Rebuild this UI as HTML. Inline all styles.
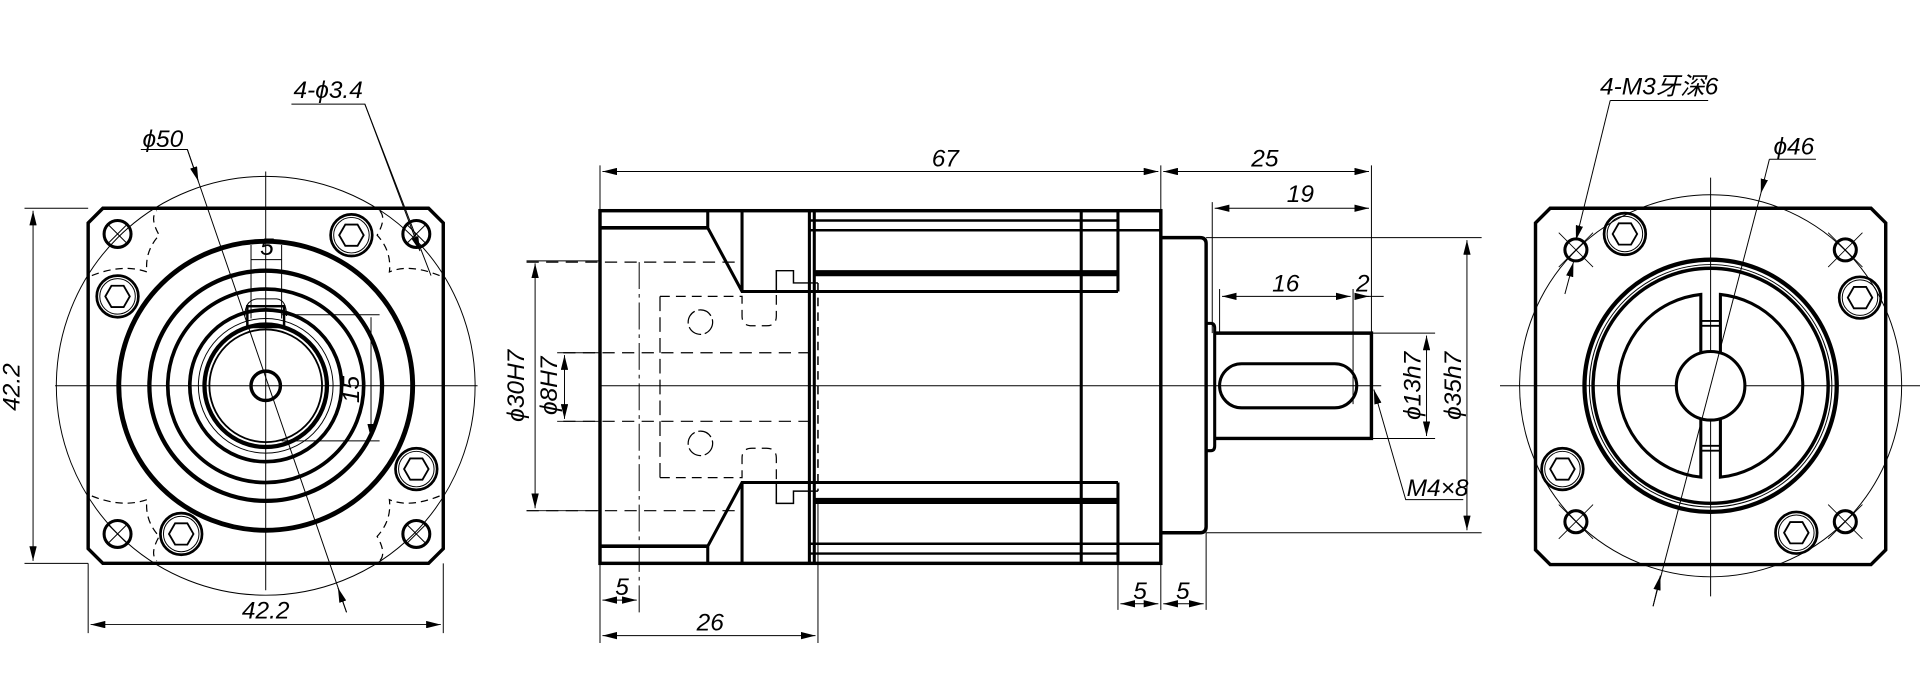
<!DOCTYPE html>
<html><head><meta charset="utf-8"><style>
html,body{margin:0;padding:0;background:#fff;}
svg{display:block;}
text{font-family:"Liberation Sans","Noto Sans CJK SC",sans-serif;font-size:20px;fill:#000;}
</style></head><body>
<svg width="1920" height="692" viewBox="0 0 1568 565" xmlns="http://www.w3.org/2000/svg">
<defs>
<marker id="a" viewBox="0 0 12 6" refX="12" refY="3" markerWidth="12" markerHeight="6" orient="auto-start-reverse" markerUnits="userSpaceOnUse"><path d="M0,0 L12,3 L0,6 z" fill="#000"/></marker>
<g id="hb" fill="none" stroke="#000"><circle r="17" stroke-width="2.2"/><circle r="14.5" stroke-width="0.8"/><polygon points="10,0 5,8.7 -5,8.7 -10,0 -5,-8.7 5,-8.7" stroke-width="1.5"/></g>
<g id="ch" fill="none" stroke="#000"><circle r="11" stroke-width="2.5"/><path d="M-7,-7 L7,7 M-7,7 L7,-7" stroke-width="0.8"/></g>
<g id="ch2" fill="none" stroke="#000"><circle r="9" stroke-width="2.5"/><path d="M-14,-14 L14,14 M-14,14 L14,-14" stroke-width="0.7"/></g>
</defs>
<g fill="none" stroke="#000">
<!-- LEFT VIEW -->
<path d="M84,170 L350,170 L362,182 L362,448 L350,460 L84,460 L72,448 L72,182 Z" stroke-width="2.8"/>
<circle cx="217" cy="315" r="171" stroke-width="0.8"/>
<path d="M45,315 H390 M217,140 V482" stroke-width="0.8"/>
<ellipse cx="217" cy="315" rx="120" ry="118" stroke-width="4"/>
<ellipse cx="217" cy="315" rx="95" ry="94" stroke-width="3.5"/>
<ellipse cx="217" cy="315" rx="80" ry="79" stroke-width="3"/>
<circle cx="217" cy="315" r="62" stroke-width="3"/>
<circle cx="217" cy="315" r="55" stroke-width="0.8"/>
<circle cx="217" cy="315" r="50" stroke-width="3.5"/>
<circle cx="217" cy="315" r="46" stroke-width="1.5"/>
<circle cx="217" cy="315" r="12" stroke-width="2.8"/>
<rect x="202" y="250" width="30" height="17" stroke-width="2"/>
<path d="M217,250 V267 M200,258 Q200,245 210,244 H226 Q234,245 234,258" stroke-width="0.8"/>
<path d="M75,225 Q100,215 120,222 Q118,205 130,192 Q122,178 128,172" stroke-width="1" stroke-dasharray="6,4"/>
<path d="M359,225 Q334,215 318,222 Q320,205 308,192 Q316,178 310,172" stroke-width="1" stroke-dasharray="6,4"/>
<path d="M75,405 Q100,415 120,408 Q118,425 130,438 Q122,452 128,458" stroke-width="1" stroke-dasharray="6,4"/>
<path d="M359,405 Q334,415 318,408 Q320,425 308,438 Q316,452 310,458" stroke-width="1" stroke-dasharray="6,4"/>
<use href="#ch" x="96" y="191"/><use href="#ch" x="340" y="191"/><use href="#ch" x="96" y="436"/><use href="#ch" x="340" y="436"/>
<use href="#hb" x="287" y="192"/><use href="#hb" x="96" y="242"/><use href="#hb" x="340" y="383"/><use href="#hb" x="148" y="436"/>
<path d="M20,170 H72 M20,460 H72" stroke-width="0.8"/>
<path d="M27,172 V458" stroke-width="0.8" marker-start="url(#a)" marker-end="url(#a)"/>
<path d="M72,460 V517 M362,460 V517" stroke-width="0.8"/>
<path d="M74,510 H360" stroke-width="0.8" marker-start="url(#a)" marker-end="url(#a)"/>
<path d="M115,122 H153 L283,500" stroke-width="0.8"/>
<path d="M153,122 L162,148" stroke-width="0.8" marker-end="url(#a)"/>
<path d="M283,500 L276,480" stroke-width="0.8" marker-end="url(#a)"/>
<path d="M238,85 H298 L352,225" stroke-width="0.8"/>
<path d="M298,85 L343,205" stroke-width="0.8" marker-end="url(#a)"/>
<path d="M205,200 V260 M230,200 V260" stroke-width="0.8"/>
<path d="M205,212 H230" stroke-width="0.8"/>
<path d="M230,257 H310 M230,360 H310" stroke-width="0.8"/>
<path d="M303,259 V358" stroke-width="0.8" marker-end="url(#a)"/>
<!-- MIDDLE VIEW -->
<rect x="490" y="172" width="458" height="288" stroke-width="2.8"/>
<path d="M490,315 H1128" stroke-width="0.8"/>
<path d="M490,186 H578 M490,446 H578" stroke-width="3"/>
<path d="M578,172 V186 L606,238 H913 M578,460 V446 L606,394 H913" stroke-width="2.5"/>
<path d="M606,172 V238 M606,460 V394" stroke-width="2.5"/>
<path d="M661,172 V460 M665,172 V460" stroke-width="2.5"/>
<path d="M661,180 H913 M661,188 H948 M661,452 H913 M661,444 H948" stroke-width="2"/>
<path d="M664,223 H913 M664,409 H913" stroke-width="5"/>
<path d="M883,172 V460 M913,172 V238 M913,394 V460" stroke-width="2.5"/>
<path d="M634,238 V221 H648 V231 H668 M634,394 V411 H648 V401 H668" stroke-width="1.2"/>
<path d="M668,231 V401" stroke-width="1.2" stroke-dasharray="7,5"/>
<path d="M430,214 H606 M430,417 H606" stroke-width="1" stroke-dasharray="10,6"/>
<path d="M522,214 V500" stroke-width="0.8" stroke-dasharray="22,4,3,4"/>
<path d="M539,242 H606 V258 Q606,266 614,266 H626 Q634,266 634,258 V238" stroke-width="1" stroke-dasharray="8,5"/>
<path d="M539,390 H606 V374 Q606,366 614,366 H626 Q634,366 634,374 V394" stroke-width="1" stroke-dasharray="8,5"/>
<path d="M539,242 V390" stroke-width="1" stroke-dasharray="12,5"/>
<path d="M460,288 H668 M460,344 H668" stroke-width="1" stroke-dasharray="10,6"/>
<circle cx="572" cy="263" r="10" stroke-width="1" stroke-dasharray="12,3"/>
<circle cx="572" cy="362" r="10" stroke-width="1" stroke-dasharray="12,3"/>
<path d="M948,194 H980 Q985,194 985,199 V430 Q985,435 980,435 H948" stroke-width="2.8"/>
<path d="M985,264 H989 Q992,264 992,268 V364 Q992,368 989,368 H985" stroke-width="2.5"/>
<path d="M992,272 H1120 V358 H992" stroke-width="2.8"/>
<rect x="996" y="297" width="112" height="36" rx="18" stroke-width="2.5"/>
<path d="M490,135 V172 M948,135 V172 M1120,135 V272 M990,165 V272 M996,236 V272 M1105,236 V330" stroke-width="0.8"/>
<path d="M492,140 H946" stroke-width="0.8" marker-start="url(#a)" marker-end="url(#a)"/>
<path d="M950,140 H1118" stroke-width="0.8" marker-start="url(#a)" marker-end="url(#a)"/>
<path d="M992,170 H1118" stroke-width="0.8" marker-start="url(#a)" marker-end="url(#a)"/>
<path d="M998,242 H1103" stroke-width="0.8" marker-start="url(#a)" marker-end="url(#a)"/>
<path d="M1107,242 H1130" stroke-width="0.8"/>
<path d="M1107,242 L1118,242" stroke-width="0.8" marker-end="url(#a)"/>
<path d="M985,194 H1210 M985,435 H1210" stroke-width="0.8"/>
<path d="M1198,196 V433" stroke-width="0.8" marker-start="url(#a)" marker-end="url(#a)"/>
<path d="M1120,272 H1172 M1120,358 H1172" stroke-width="0.8"/>
<path d="M1165,274 V356" stroke-width="0.8" marker-start="url(#a)" marker-end="url(#a)"/>
<path d="M1195,408 H1148 L1122,318" stroke-width="0.8" marker-end="url(#a)"/>
<path d="M430,213 H490 M430,417 H490 M455,288 H490 M455,344 H490" stroke-width="0.8"/>
<path d="M437,215 V415" stroke-width="0.8" marker-start="url(#a)" marker-end="url(#a)"/>
<path d="M461,290 V342" stroke-width="0.8" marker-start="url(#a)" marker-end="url(#a)"/>
<path d="M490,460 V525 M668,411 V525 M913,460 V498 M948,460 V498 M985,435 V498" stroke-width="0.8"/>
<path d="M492,490 H520" stroke-width="0.8" marker-start="url(#a)" marker-end="url(#a)"/>
<path d="M492,519 H666" stroke-width="0.8" marker-start="url(#a)" marker-end="url(#a)"/>
<path d="M915,493 H946" stroke-width="0.8" marker-start="url(#a)" marker-end="url(#a)"/>
<path d="M950,493 H983" stroke-width="0.8" marker-start="url(#a)" marker-end="url(#a)"/>
<!-- RIGHT VIEW -->
<path d="M1266,170 H1528 L1540,182 V449 L1528,461 H1266 L1254,449 V182 Z" stroke-width="2.8"/>
<circle cx="1397" cy="315" r="156" stroke-width="0.8"/>
<path d="M1225,315 H1568 M1397,145 V487" stroke-width="0.8"/>
<circle cx="1397" cy="315" r="103" stroke-width="3.5"/>
<circle cx="1397" cy="315" r="99" stroke-width="0.8"/>
<circle cx="1397" cy="315" r="96" stroke-width="2.8"/>
<path d="M1389,240.4 A75,75 0 0 0 1389,389.6 Z" stroke-width="2.5"/>
<path d="M1405,240.4 A75,75 0 0 1 1405,389.6 Z" stroke-width="2.5"/>
<path d="M1389,262 H1405 M1389,266 H1405 M1389,364 H1405 M1389,368 H1405" stroke-width="1.5"/>
<circle cx="1397" cy="315" r="28" fill="#fff" stroke-width="2.5"/>
<use href="#ch2" x="1287" y="204"/><use href="#ch2" x="1507" y="204"/><use href="#ch2" x="1287" y="426"/><use href="#ch2" x="1507" y="426"/>
<use href="#hb" x="1327" y="191"/><use href="#hb" x="1519" y="243"/><use href="#hb" x="1276" y="383"/><use href="#hb" x="1467" y="435"/>
<path d="M1315,82 H1395" stroke-width="0.8"/>
<path d="M1315,82 L1287,196" stroke-width="0.8" marker-end="url(#a)"/>
<path d="M1278,240 L1285,214" stroke-width="0.8" marker-end="url(#a)"/>
<path d="M1445,130 H1483" stroke-width="0.8"/>
<path d="M1445,130 L1438,158" stroke-width="0.8" marker-end="url(#a)"/>
<path d="M1438,158 L1350,495" stroke-width="0.8"/>
<path d="M1350,495 L1356,470" stroke-width="0.8" marker-end="url(#a)"/>
</g>
<g font-style="italic">
<text x="16" y="316" text-anchor="middle" transform="rotate(-90 16 316)">42.2</text>
<text x="217" y="505" text-anchor="middle">42.2</text>
<text x="133" y="120" text-anchor="middle">ϕ50</text>
<text x="268" y="80" text-anchor="middle">4-ϕ3.4</text>
<text x="218" y="208" text-anchor="middle" font-size="16">5</text>
<text x="293" y="318" text-anchor="middle" font-size="16" transform="rotate(-90 293 318)">15</text>
<text x="772" y="136" text-anchor="middle">67</text>
<text x="1033" y="136" text-anchor="middle">25</text>
<text x="1062" y="165" text-anchor="middle">19</text>
<text x="1050" y="238" text-anchor="middle">16</text>
<text x="1113" y="238" text-anchor="middle">2</text>
<text x="428" y="315" text-anchor="middle" transform="rotate(-90 428 315)">ϕ30H7</text>
<text x="455" y="315" text-anchor="middle" transform="rotate(-90 455 315)">ϕ8H7</text>
<text x="1160" y="315" text-anchor="middle" transform="rotate(-90 1160 315)">ϕ13h7</text>
<text x="1193" y="315" text-anchor="middle" transform="rotate(-90 1193 315)">ϕ35h7</text>
<text x="1174" y="405" text-anchor="middle" font-size="16">M4×8</text>
<text x="508" y="486" text-anchor="middle">5</text>
<text x="580" y="515" text-anchor="middle">26</text>
<text x="931" y="489" text-anchor="middle">5</text>
<text x="966" y="489" text-anchor="middle">5</text>
<text x="1355" y="77" text-anchor="middle" font-size="18">4-M3牙深6</text>
<text x="1465" y="126" text-anchor="middle">ϕ46</text>
</g>
</svg>
</body></html>
